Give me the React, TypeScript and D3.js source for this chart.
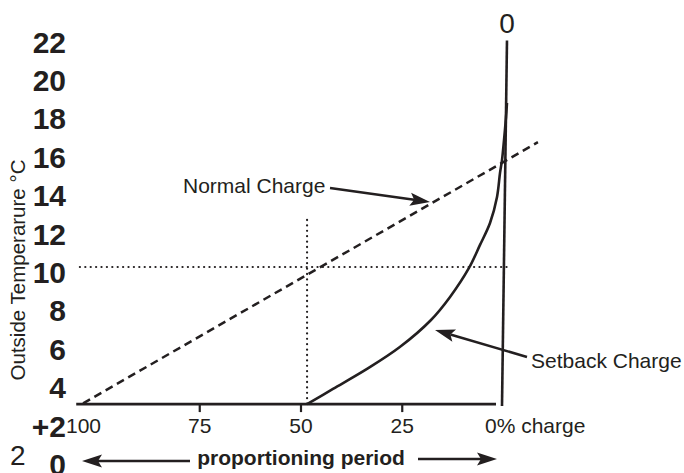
import * as d3 from 'd3';

// y axis: outside temperature (°C)
const yTickValues = [22, 20, 18, 16, 14, 12, 10, 8, 6, 4, 2, 0];
const yTickLabels = ['22', '20', '18', '16', '14', '12', '10', '8', '6', '4', '+2', '0'];

// x axis: proportioning period (% charge)
const xTickValues = [75, 50, 25];
const xTickLabels = ['100', '75', '50', '25'];
const xLabelValues = [103.7, 75, 50, 25];
const axisStart = 105.5;
const axisEnd = 1.85;
const axisTemp = 2.86;

// normal charge (straight, dashed)
const normalCharge = [
  { pct: 103.8, temp: 2.9 },
  { pct: -8.5, temp: 16.5 },
];

// setback charge (curve)
const setbackCharge = [
  { pct: 48.5, temp: 2.86 },
  { pct: 42.1, temp: 3.65 },
  { pct: 33.7, temp: 4.69 },
  { pct: 25.6, temp: 5.83 },
  { pct: 17.9, temp: 7.24 },
  { pct: 13.2, temp: 8.44 },
  { pct: 8.52, temp: 9.95 },
  { pct: 5.8, temp: 11.15 },
  { pct: 3.33, temp: 12.29 },
  { pct: 1.6, temp: 13.65 },
  { pct: 0.86, temp: 14.9 },
  { pct: 0.37, temp: 15.57 },
  { pct: -0.12, temp: 16.6 },
  { pct: -0.62, temp: 17.8 },
  { pct: -0.86, temp: 18.54 },
];

// 0% line (slightly leaning)
const zeroLine = [
  { pct: 0.37, temp: 2.76 },
  { pct: -0.86, temp: 21.8 },
];

// reference guides at 50% / 10 °C
const guidePct = 48.5;
const guideTemp = 10;
const guideTop = 12.45;
const guideLeft = 104.6;
const guideRight = -1.1;

const ink = '#231f20';
const font = '"Liberation Sans", Arial, Helvetica, sans-serif';

function Arrow({ x1, y1, x2, y2 }: { x1: number; y1: number; x2: number; y2: number }) {
  const a = Math.atan2(y2 - y1, x2 - x1);
  const len = 20;
  const hw = 6.5;
  const nb = 4;
  const bx = x2 - len * Math.cos(a);
  const by = y2 - len * Math.sin(a);
  const nx = -Math.sin(a);
  const ny = Math.cos(a);
  const lx = x2 - (len - nb) * Math.cos(a);
  const ly = y2 - (len - nb) * Math.sin(a);
  const head = [
    [x2, y2],
    [bx + nx * hw, by + ny * hw],
    [lx, ly],
    [bx - nx * hw, by - ny * hw],
  ];
  return (
    <g>
      <line x1={x1} y1={y1} x2={lx} y2={ly} stroke={ink} strokeWidth={2.5} />
      <polygon points={head.map((p) => p.join(',')).join(' ')} fill={ink} />
    </g>
  );
}

export default function App() {
  const width = 684;
  const height = 473;

  const x = d3.scaleLinear().domain([100, 0]).range([98.5, 503.5]);
  const y = d3.scaleLinear().domain([0, 22]).range([459, 36.6]);

  type P = { pct: number; temp: number };
  const straight = d3.line<P>().x((d) => x(d.pct)).y((d) => y(d.temp));
  const curve = d3
    .line<P>()
    .x((d) => x(d.pct))
    .y((d) => y(d.temp))
    .curve(d3.curveCatmullRom.alpha(0.5));

  const axisY = y(axisTemp);

  return (
    <svg
      width={width}
      height={height}
      style={{ position: 'absolute', left: 0, top: 0, background: '#fff' }}
      fontFamily={font}
    >
      {/* y tick labels */}
      {yTickValues.map((v, i) => (
        <text
          key={v}
          x={66}
          y={y(v) + 16}
          textAnchor="end"
          fontSize={30}
          fontWeight="bold"
          fill={ink}
        >
          {yTickLabels[i]}
        </text>
      ))}
      <text x={10} y={465} fontSize={28} fill={ink}>
        2
      </text>

      {/* y title */}
      <text
        transform={`translate(25,270) rotate(-90)`}
        textAnchor="middle"
        fontSize={20.5}
        fill={ink}
      >
        Outside Temperarure °C
      </text>

      {/* guides */}
      <line
        x1={x(guideLeft)}
        x2={x(guideRight)}
        y1={y(guideTemp)}
        y2={y(guideTemp)}
        stroke={ink}
        strokeWidth={2.2}
        strokeDasharray="0.1 5.3"
        strokeLinecap="round"
      />
      <line
        x1={x(guidePct)}
        x2={x(guidePct)}
        y1={y(guideTop)}
        y2={axisY}
        stroke={ink}
        strokeWidth={2.2}
        strokeDasharray="0.1 5.3"
        strokeLinecap="round"
      />

      {/* x axis */}
      <line x1={x(axisStart)} x2={x(axisEnd)} y1={axisY} y2={axisY} stroke={ink} strokeWidth={2.6} />
      {xTickValues.map((v) => (
        <line key={v} x1={x(v)} x2={x(v)} y1={axisY} y2={axisY + 8} stroke={ink} strokeWidth={2.2} />
      ))}
      {xTickLabels.map((t, i) => (
        <text key={t} x={x(xLabelValues[i])} y={433} textAnchor="middle" fontSize={21} fill={ink}>
          {t}
        </text>
      ))}
      <text x={x(0) - 18.5} y={433} fontSize={21} fill={ink}>
        0% charge
      </text>

      {/* 0% vertical line */}
      <path d={straight(zeroLine) ?? ''} stroke={ink} strokeWidth={2.6} fill="none" />
      <text x={x(zeroLine[1].pct)} y={33} textAnchor="middle" fontSize={28} fill={ink}>
        0
      </text>

      {/* normal charge */}
      <path
        d={straight(normalCharge) ?? ''}
        stroke={ink}
        strokeWidth={2.5}
        strokeDasharray="8 5"
        fill="none"
      />
      {/* setback charge */}
      <path d={curve(setbackCharge) ?? ''} stroke={ink} strokeWidth={2.6} fill="none" />

      {/* annotations */}
      <text x={183} y={193} fontSize={21} fill={ink}>
        Normal Charge
      </text>
      <Arrow x1={330} y1={188} x2={430} y2={202} />
      <text x={531} y={368} fontSize={21} fill={ink}>
        Setback Charge
      </text>
      <Arrow x1={527} y1={357} x2={435} y2={330} />

      {/* proportioning period */}
      <Arrow x1={190} y1={461} x2={82} y2={461} />
      <text x={301} y={465} textAnchor="middle" fontSize={21} fontWeight="bold" fill={ink}>
        proportioning period
      </text>
      <Arrow x1={418} y1={459} x2={497} y2={459} />
    </svg>
  );
}
